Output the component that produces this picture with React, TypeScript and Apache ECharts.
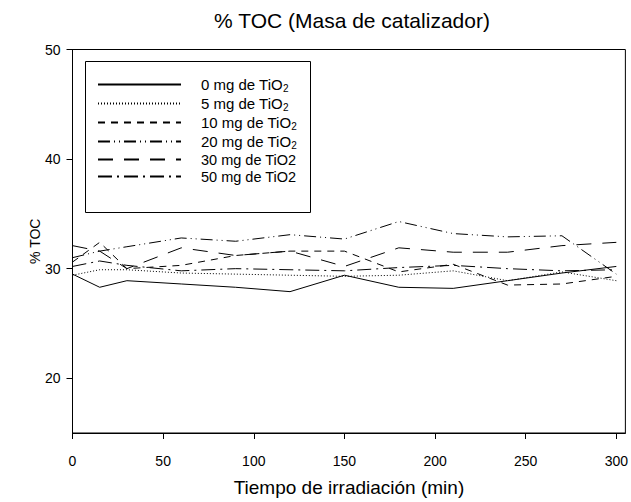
import React, { useEffect, useRef } from "react";
import * as echarts from "echarts";

const times = [0, 15, 30, 60, 90, 120, 150, 180, 210, 240, 270, 300];
const toc0 = [29.5, 28.3, 28.9, 28.6, 28.3, 27.9, 29.4, 28.3, 28.2, 28.9, 29.6, 30.2];
const toc5 = [29.4, 29.9, 29.9, 29.6, 29.5, 29.4, 29.3, 29.4, 29.8, 28.9, 29.7, 28.9];
const toc10 = [30.6, 32.4, 30.0, 30.3, 31.2, 31.6, 31.6, 29.7, 30.4, 28.5, 28.6, 29.3];
const toc20 = [31.0, 31.6, 32.0, 32.8, 32.5, 33.1, 32.7, 34.3, 33.2, 32.9, 33.0, 29.5];
const toc30 = [32.1, 31.6, 30.0, 31.9, 31.2, 31.6, 30.2, 31.9, 31.5, 31.5, 32.1, 32.4];
const toc50 = [30.2, 30.7, 30.3, 29.8, 30.0, 29.9, 29.8, 30.1, 30.3, 30.0, 29.8, 29.9];

const seriesNames = [
  "0 mg de TiO2",
  "5 mg de TiO2",
  "10 mg de TiO2",
  "20 mg de TiO2",
  "30 mg de TiO2",
  "50 mg de TiO2",
];
const seriesValues = [toc0, toc5, toc10, toc20, toc30, toc50];
const dashes: (string | number[])[] = [
  "solid",
  [1, 2],
  [7, 6],
  [12, 4, 1, 4, 1, 4],
  [15, 11],
  [14, 5, 2, 5],
];
const xTicks = [0, 50, 100, 150, 200, 250, 300];
const yTicks = [20, 30, 40, 50];

const FONT = "Liberation Sans";

export default function App() {
  const ref = useRef<HTMLDivElement>(null);
  useEffect(() => {
    document.body.style.margin = "0";
    const chart = echarts.init(ref.current!, null, { renderer: "svg" });
    const series = seriesNames.map((name, i) => ({
      name,
      type: "line",
      symbol: "none",
      data: times.map((t, j) => [t, seriesValues[i][j]]),
      lineStyle: { color: "#000", width: 1, type: dashes[i] },
      itemStyle: { color: "#000" },
    }));
    const legendFormatter = (name: string) => {
      if (name.startsWith("30") || name.startsWith("50")) return "{n|" + name + "}";
      return "{n|" + name.slice(0, -1) + "}{s|2}";
    };
    const makeText = (size: number) => ({
      fontFamily: FONT,
      color: "#000",
      padding: [0, 0, 0, 15],
      rich: {
        n: { fontFamily: FONT, fontSize: size, color: "#000", lineHeight: size },
        s: { fontFamily: FONT, fontSize: 10, color: "#000", lineHeight: 10, padding: [7, 0, 0, 0] },
      },
    });
    const legendCommon = {
      orient: "vertical",
      left: 97,
      padding: 0,
      itemWidth: 83,
      itemHeight: 14,
      selectedMode: false,
      formatter: legendFormatter,
      itemStyle: { color: "rgba(0,0,0,0)", borderWidth: 0, opacity: 0 },
    };
    chart.setOption({
      animation: false,
      graphic: [
        {
          type: "text",
          x: 352,
          y: 20,
          style: {
            text: "% TOC (Masa de catalizador)",
            font: `21px "${FONT}"`,
            fill: "#000",
            textAlign: "center",
            textVerticalAlign: "middle",
          },
        },
        {
          type: "rect",
          shape: { x: 85.5, y: 61.5, width: 225, height: 151 },
          style: { fill: "none", stroke: "#000", lineWidth: 1 },
          z: 10,
        },
      ],
      legend: [
        { ...legendCommon, data: seriesNames.slice(0, 4), top: 76, itemGap: 2, textStyle: makeText(15) },
        { ...legendCommon, data: seriesNames.slice(4), top: 152, itemGap: 2, textStyle: makeText(14.5) },
      ],
      grid: {
        left: 72.5,
        top: 49.5,
        right: 4.5,
        bottom: 65.5,
        show: true,
        borderColor: "#000",
        borderWidth: 1,
      },
      xAxis: {
        type: "value",
        min: 0,
        max: 305,
        name: "Tiempo de irradiación (min)",
        nameLocation: "middle",
        nameGap: 45,
        nameTextStyle: { fontFamily: FONT, fontSize: 19, color: "#000" },
        axisLine: { lineStyle: { color: "#000", width: 1 } },
        axisTick: { show: true, inside: false, length: 6, lineStyle: { color: "#000" }, customValues: xTicks },
        axisLabel: { fontFamily: FONT, fontSize: 14, color: "#000", margin: 21, customValues: xTicks },
        splitLine: { show: false },
      },
      yAxis: {
        type: "value",
        min: 15,
        max: 50,
        name: "% TOC",
        nameLocation: "middle",
        nameGap: 31,
        nameMoveOverlap: false,
        nameTextStyle: { fontFamily: FONT, fontSize: 14, color: "#000" },
        axisLine: { show: true, lineStyle: { color: "#000", width: 1 } },
        axisTick: { show: true, inside: false, length: 6, lineStyle: { color: "#000" }, customValues: yTicks },
        axisLabel: { fontFamily: FONT, fontSize: 14, color: "#000", margin: 12, customValues: yTicks },
        splitLine: { show: false },
      },
      series,
    });
    return () => chart.dispose();
  }, []);
  return <div ref={ref} style={{ width: 631, height: 502 }} />;
}
